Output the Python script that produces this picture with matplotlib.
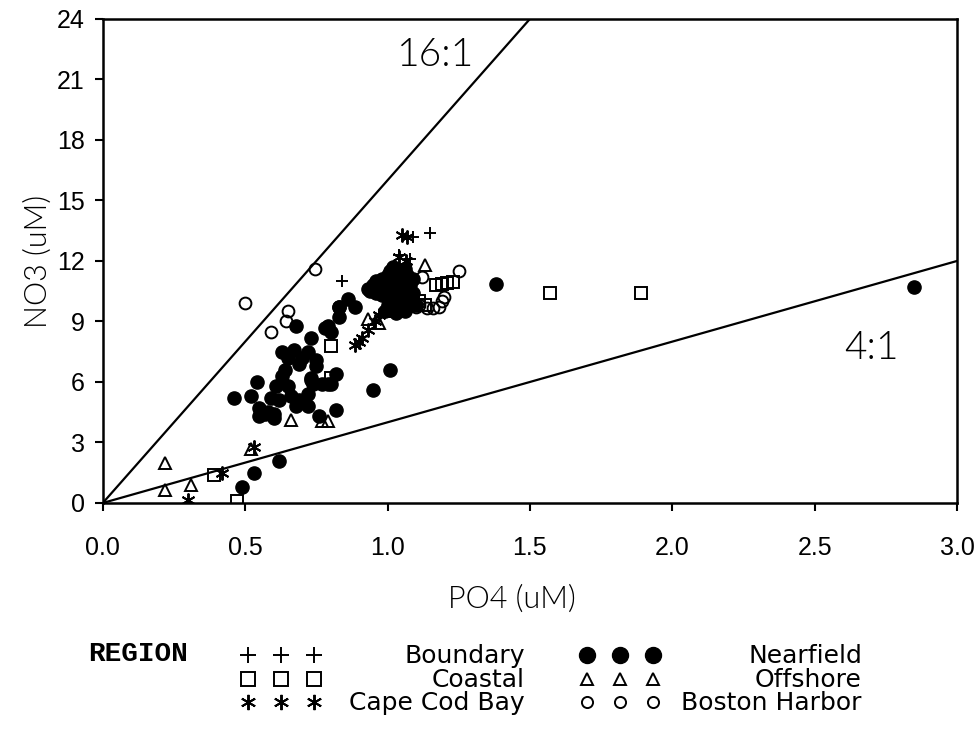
import matplotlib
matplotlib.use("Agg")
import matplotlib.pyplot as plt

# ---- data: PO4 (uM) vs NO3 (uM) by region ----
boundary_po4 = [0.84, 1.09, 1.15, 1.08, 1.04, 1.02, 1.06]
boundary_no3 = [11.0, 13.2, 13.4, 12.1, 12.3, 10.9, 11.4]

coastal_po4 = [0.47, 0.39, 0.80, 0.80, 1.57, 1.89, 1.17, 1.19, 1.21, 1.23, 1.11, 1.09, 1.05, 1.13]
coastal_no3 = [0.1, 1.4, 7.8, 6.2, 10.4, 10.4, 10.8, 10.85, 10.9, 10.95, 10.0, 9.9, 9.7, 9.8]

capecod_po4 = [0.30, 0.42, 0.53, 0.885, 0.91, 0.93, 0.955, 1.05, 1.07, 1.04, 1.065, 0.90, 0.97]
capecod_no3 = [0.15, 1.5, 2.8, 7.85, 8.2, 8.6, 9.0, 13.3, 13.2, 12.2, 12.0, 8.0, 9.3]

nearfield_po4 = [
    1.38, 2.85, 1.01, 0.95, 0.49, 0.53, 0.62, 0.82,
    0.46, 0.52, 0.54, 0.55, 0.57, 0.60, 0.59, 0.61, 0.63, 0.64, 0.63, 0.65,
    0.67, 0.69, 0.70, 0.72, 0.73, 0.68, 0.73, 0.75, 0.74, 0.77, 0.72, 0.66,
    0.65, 0.62, 0.68, 0.72, 0.82, 0.80, 0.79, 0.80, 0.83, 0.76, 0.86, 0.83,
    0.83, 0.885, 0.78, 0.75, 0.79, 0.73, 0.69, 0.60, 0.55, 0.58,
    0.94, 0.95, 0.96, 0.97, 0.97, 0.98, 0.98, 0.99, 1.00, 1.00, 1.00, 1.01,
    1.01, 1.02, 1.02, 1.03, 1.03, 1.03, 1.04, 1.04, 1.05, 1.05, 1.05, 1.06,
    1.06, 1.07, 1.07, 1.08, 1.08, 1.09, 1.09, 1.01, 1.03, 1.00, 0.99, 1.06,
    1.10, 0.96, 1.02, 1.06, 0.93,
]
nearfield_no3 = [
    10.85, 10.7, 6.6, 5.6, 0.8, 1.5, 2.1, 4.6,
    5.2, 5.3, 6.0, 4.7, 4.4, 4.4, 5.2, 5.8, 6.3, 6.6, 7.5, 7.2,
    7.6, 6.9, 7.2, 7.5, 8.2, 8.8, 6.2, 6.8, 5.9, 5.9, 5.4, 5.3,
    5.8, 5.1, 4.8, 4.8, 6.4, 5.9, 8.8, 8.5, 9.7, 4.3, 10.1, 9.2,
    9.7, 9.7, 8.7, 7.1, 5.9, 6.1, 5.1, 4.2, 4.3, 4.5,
    10.5, 10.8, 10.4, 10.9, 10.6, 11.1, 10.3, 10.7, 11.3, 10.9, 10.5, 11.5,
    10.1, 11.0, 10.7, 11.6, 11.2, 10.4, 10.9, 9.9, 11.4, 10.6, 10.2, 11.0,
    9.7, 11.3, 10.5, 10.8, 10.0, 11.1, 10.4, 9.6, 9.4, 9.8, 9.5, 9.5,
    9.8, 11.0, 11.7, 11.6, 10.6,
]

offshore_po4 = [0.22, 0.22, 0.31, 0.52, 0.66, 0.77, 0.79, 1.13, 0.93, 0.97, 0.99, 1.01]
offshore_no3 = [2.0, 0.65, 0.9, 2.7, 4.1, 4.05, 4.05, 11.8, 9.1, 8.9, 9.5, 9.7]

harbor_po4 = [0.50, 0.745, 0.65, 0.645, 0.59, 1.25, 1.12, 1.07, 1.10, 1.14, 1.18, 1.19, 1.20, 1.11, 1.16]
harbor_no3 = [9.9, 11.6, 9.5, 9.0, 8.5, 11.5, 11.2, 9.7, 9.7, 9.65, 9.7, 10.0, 10.2, 9.8, 9.65]

# N:P reference ratios drawn as lines through the origin
ratios = [16, 4]
ratio_labels = ["16:1", "4:1"]

x_ticks = [0.0, 0.5, 1.0, 1.5, 2.0, 2.5, 3.0]
y_ticks = [0, 3, 6, 9, 12, 15, 18, 21, 24]

regions = ["Boundary", "Coastal", "Cape Cod Bay", "Nearfield", "Offshore", "Boston Harbor"]

thin_font = ["Lato", "DejaVu Sans"]
label_font = ["DejaVu Sans"]
tick_font = ["Liberation Sans", "DejaVu Sans"]

asterisk = (6, 2, 0)
styles = {
    "Boundary": dict(marker="+", ms=9, mew=1.4, mfc="none", mec="black"),
    "Coastal": dict(marker="s", ms=8, mew=1.4, mfc="none", mec="black"),
    "Cape Cod Bay": dict(marker=asterisk, ms=10, mew=1.4, mfc="none", mec="black"),
    "Nearfield": dict(marker="o", ms=9.5, mew=1.0, mfc="black", mec="black"),
    "Offshore": dict(marker="^", ms=8, mew=1.4, mfc="none", mec="black"),
    "Boston Harbor": dict(marker="o", ms=8.5, mew=1.4, mfc="none", mec="black"),
}
series = {
    "Boundary": (boundary_po4, boundary_no3),
    "Coastal": (coastal_po4, coastal_no3),
    "Cape Cod Bay": (capecod_po4, capecod_no3),
    "Nearfield": (nearfield_po4, nearfield_no3),
    "Offshore": (offshore_po4, offshore_no3),
    "Boston Harbor": (harbor_po4, harbor_no3),
}

fig = plt.figure(figsize=(9.79, 7.30), dpi=100)
ax = fig.add_axes([0.105, 0.311, 0.8725, 0.663])

xs = [0.0, 3.0]
for r in ratios:
    ax.plot(xs, [r * v for v in xs], color="black", lw=1.6, zorder=2)

for name in regions:
    px, py = series[name]
    ax.plot(px, py, ls="none", zorder=3, **styles[name])

ax.text(1.17, 22.2, ratio_labels[0], fontsize=28, family=thin_font, fontweight=300,
        ha="center", va="center", color="black")
ax.text(2.70, 7.7, ratio_labels[1], fontsize=28, family=thin_font, fontweight=300,
        ha="center", va="center", color="black")

ax.set_xlim(0, 3.0)
ax.set_ylim(0, 24)
ax.set_xticks(x_ticks)
ax.set_yticks(y_ticks)
ax.set_xticklabels([f"{t:.1f}" for t in x_ticks], fontsize=18, family=tick_font)
ax.set_yticklabels([str(t) for t in y_ticks], fontsize=18, family=tick_font)
ax.tick_params(direction="out", length=6, width=1.5)
ax.tick_params(axis="x", pad=18)
ax.tick_params(axis="y", pad=7)
for sp in ax.spines.values():
    sp.set_linewidth(1.8)

ax.set_xlabel("PO4 (uM)", fontsize=22, family=thin_font, fontweight=300, color="black")
ax.set_ylabel("NO3 (uM)", fontsize=22, family=thin_font, fontweight=300, color="black")
ax.xaxis.label.set_va("center")
ax.yaxis.label.set_va("center")
ax.xaxis.set_label_coords(0.479, -0.200)
ax.yaxis.set_label_coords(-0.076, 0.50)

# key below the plot, laid out on a pixel-scaled overlay axes
leg = fig.add_axes([0, 0, 1, 1], facecolor="none")
leg.set_xlim(0, 979)
leg.set_ylim(730, 0)
leg.axis("off")

leg.text(88, 654, "REGION", fontsize=20, family="Liberation Mono",
         fontweight="bold", ha="left", va="center")

rows_y = [655, 679, 702]
col_marker_x = [[248, 281, 314], [587, 620, 653]]
col_text_right = [525, 862]
leg_ms = {"Boundary": 12, "Coastal": 10, "Cape Cod Bay": 11,
          "Nearfield": 11.5, "Offshore": 9, "Boston Harbor": 8}
for i, name in enumerate(regions):
    col, row = divmod(i, 3)
    st = dict(styles[name])
    st["ms"] = leg_ms[name]
    leg.plot(col_marker_x[col], [rows_y[row]] * 3, ls="none", **st)
    leg.text(col_text_right[col], rows_y[row] + 1, name, fontsize=18,
             family=label_font, ha="right", va="center")

fig.savefig("out.png", dpi=100)
